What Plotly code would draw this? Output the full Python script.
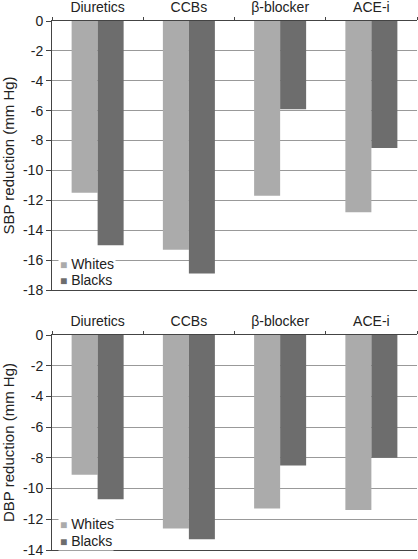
import plotly.graph_objects as go
from plotly.subplots import make_subplots

categories = ["Diuretics", "CCBs", "β-blocker", "ACE-i"]
series_names = ["Whites", "Blacks"]
sbp_whites = [-11.5, -15.3, -11.7, -12.8]
sbp_blacks = [-15.0, -16.9, -5.9, -8.5]
dbp_whites = [-9.1, -12.6, -11.3, -11.4]
dbp_blacks = [-10.7, -13.3, -8.5, -8.0]
sbp_ticks = [0, -2, -4, -6, -8, -10, -12, -14, -16, -18]
dbp_ticks = [0, -2, -4, -6, -8, -10, -12, -14]

C_WHITE = "#ababab"
C_BLACK = "#6d6d6d"
FONT = "Liberation Sans, Arial, sans-serif"
TXT = "#222222"

W, H = 418, 559
ML, MR, MT, MB = 52, 1, 21, 9
ph = H - MT - MB
pw = W - ML - MR

def py(px):
    return (H - MB - px) / ph

def pxx(px):
    return (px - ML) / pw

fig = make_subplots(rows=2, cols=1, vertical_spacing=0.0)

colors = [C_WHITE, C_BLACK]
for row, data in ((1, (sbp_whites, sbp_blacks)), (2, (dbp_whites, dbp_blacks))):
    for name, vals, col in zip(series_names, data, colors):
        fig.add_trace(go.Bar(x=categories, y=vals, name=name, marker_color=col,
                             marker_line_width=0, showlegend=False), row=row, col=1)

xcommon = dict(side="top", showline=True, linecolor="#444444", linewidth=1, mirror=True,
               ticks="outside", tickson="boundaries", ticklen=3, tickcolor="#444444",
               showgrid=False, automargin=False, ticklabelstandoff=2,
               tickfont=dict(size=14, color=TXT, family=FONT))
fig.update_xaxes(**xcommon)

def tick_labels(vals):
    return [str(v) if v >= 0 else "-" + str(-v) for v in vals]

fig.update_layout(
    xaxis=dict(domain=[0, 1], anchor="y"),
    xaxis2=dict(domain=[0, 1], anchor="y2"),
    yaxis=dict(domain=[py(290), py(21)], range=[-18, 0],
               tickvals=sbp_ticks, ticktext=tick_labels(sbp_ticks)),
    yaxis2=dict(domain=[py(550), py(335)], range=[-14, 0],
                tickvals=dbp_ticks, ticktext=tick_labels(dbp_ticks)),
)
ycommon = dict(showline=True, linecolor="#444444", linewidth=1, ticks="outside", ticklen=5,
               tickcolor="#444444", showgrid=True, gridcolor="#999999", gridwidth=1,
               zeroline=False, automargin=False, tickfont=dict(size=14, color=TXT, family=FONT),
               title_font=dict(size=15, color=TXT, family=FONT), title_standoff=4)
fig.update_yaxes(**ycommon)
fig.update_yaxes(title_text="SBP reduction (mm Hg)", row=1, col=1)
fig.update_yaxes(title_text="DBP reduction (mm Hg)", row=2, col=1)

# legend entries (square swatch + text), white background hides the gridline behind
legend_rows = [(264, 280), (524, 541)]
for (yw, yb) in legend_rows:
    for name, col, ypx in zip(series_names, colors, (yw, yb)):
        fig.add_annotation(
            xref="paper", yref="paper", x=pxx(58), y=py(ypx),
            xanchor="left", yanchor="middle", showarrow=False,
            text=f'<span style="color:{col};font-size:12px">■</span> {name}',
            font=dict(size=14, color=TXT, family=FONT),
            bgcolor="white", borderpad=1,
        )

fig.update_layout(
    width=W, height=H,
    margin=dict(l=ML, r=MR, t=MT, b=MB),
    paper_bgcolor="white", plot_bgcolor="white",
    barmode="group", bargap=0.43, bargroupgap=0,
    font=dict(family=FONT, size=14, color=TXT),
    showlegend=False,
)

fig.write_html("out.html", config={"displayModeBar": False},
               post_script="document.body.style.margin='0px';")
